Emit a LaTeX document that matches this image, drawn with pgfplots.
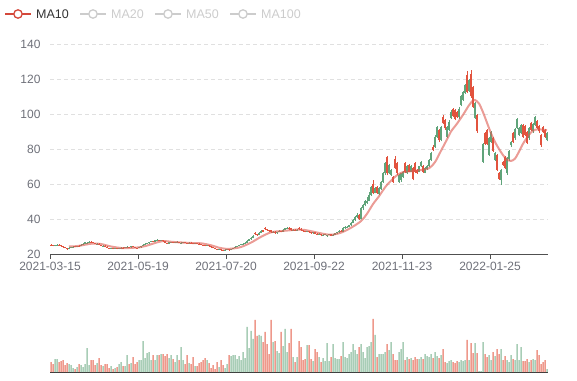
\documentclass[border=0pt]{standalone}
\usepackage{fontspec}
\setmainfont{Liberation Sans}
\usepackage{pgfplots}
\usepackage{pgfplotstable}
\pgfplotsset{compat=1.18}
\definecolor{cred}{RGB}{226,83,62}
\definecolor{cgreen}{RGB}{96,164,122}
\definecolor{mared}{RGB}{221,90,80}
\definecolor{lblgray}{RGB}{110,112,121}
\definecolor{gridgray}{RGB}{224,224,224}
\definecolor{axisgray}{RGB}{80,80,80}
\definecolor{leggray}{RGB}{204,204,204}
\definecolor{legred}{RGB}{212,72,58}
\definecolor{legtext}{RGB}{51,51,51}

\pgfplotstableread{
i o c l h v
0 25.3 25.0 24.8 25.5 10
1 25.0 24.6 24.4 25.2 8
2 24.5 24.9 24.3 25.1 13
3 24.9 25.3 24.8 25.5 13
4 25.4 25.0 24.8 25.6 10
5 25.0 24.4 24.2 25.1 11
6 24.4 23.8 23.6 24.5 12
7 23.9 23.4 23.2 24.0 7
8 23.5 22.8 22.4 23.6 9
9 22.9 23.6 22.7 23.8 8
10 23.6 23.9 23.4 24.1 7
11 23.9 24.2 23.7 24.4 4
12 24.3 24.0 23.8 24.5 3
13 24.0 24.6 23.9 24.8 5
14 24.7 24.4 24.2 24.9 8
15 24.4 25.4 24.3 25.6 7
16 25.4 25.9 25.2 26.1 5
17 25.9 26.6 25.8 26.9 8
18 26.0 26.5 25.8 27.0 24
19 26.5 27.0 26.3 27.3 7
20 27.1 26.8 26.5 27.3 12
21 26.8 26.3 26.1 27.0 12
22 26.3 25.8 25.6 26.4 7
23 25.7 25.9 25.5 26.1 9
24 25.9 25.2 25.0 26.1 14
25 25.2 24.7 24.5 25.3 7
26 24.6 24.8 24.4 25.0 6
27 24.8 24.2 24.0 24.9 8
28 24.2 23.6 23.4 24.3 8
29 23.6 23.2 23.0 23.7 4
30 23.2 23.5 23.0 23.7 6
31 23.5 23.0 22.8 23.6 3
32 23.0 23.3 22.9 23.5 4
33 23.3 22.9 22.7 23.4 5
34 22.9 23.2 22.7 23.4 8
35 23.2 23.6 23.1 23.8 10
36 23.6 23.4 23.2 23.8 6
37 23.4 23.9 23.3 24.1 6
38 23.8 24.1 23.6 24.4 17
39 24.1 23.8 23.6 24.2 8
40 23.8 24.3 23.7 24.5 9
41 24.3 24.0 23.8 24.5 15
42 24.0 23.6 23.4 24.1 8
43 23.6 23.3 23.1 23.7 10
44 23.3 23.8 23.2 24.0 12
45 23.8 24.5 23.7 24.7 12
46 24.5 25.3 24.4 25.5 31
47 25.3 25.9 25.1 26.1 14
48 25.9 26.1 25.7 26.4 19
49 26.1 26.8 26.0 27.0 20
50 26.8 27.3 26.6 27.6 12
51 27.4 27.0 26.8 27.6 17
52 27.0 27.8 26.9 28.0 12
53 27.8 28.1 27.6 28.4 17
54 28.1 27.4 27.2 28.2 17
55 27.4 27.9 27.3 28.1 18
56 27.9 27.2 27.0 28.0 18
57 27.2 26.4 26.2 27.3 16
58 26.4 26.0 25.8 26.5 18
59 26.0 26.6 25.9 26.8 14
60 26.6 26.9 26.4 27.1 17
61 26.9 26.3 26.1 27.0 13
62 26.3 26.7 26.2 26.9 10
63 26.7 27.0 26.6 27.2 17
64 27.0 26.5 26.3 27.1 12
65 25.9 26.2 25.7 26.6 25
66 26.2 26.6 26.1 26.8 12
67 26.6 26.4 26.2 26.7 8
68 26.4 26.0 25.8 26.5 17
69 26.0 26.5 25.9 26.7 9
70 26.5 26.2 26.0 26.6 8
71 26.2 25.9 25.7 26.3 15
72 25.9 26.3 25.8 26.5 6
73 26.3 26.0 25.8 26.4 6
74 26.0 25.6 25.4 26.1 9
75 25.6 25.3 25.1 25.8 10
76 25.3 25.0 24.8 25.4 12
77 25.0 24.6 24.4 25.1 14
78 24.6 24.9 24.5 25.1 12
79 24.9 24.3 24.1 25.0 9
80 24.3 23.8 23.6 24.4 4
81 23.8 23.4 23.2 23.9 7
82 23.4 22.8 22.6 23.5 3
83 22.8 22.5 22.2 22.9 10
84 22.5 22.9 22.4 23.1 5
85 22.9 22.3 22.0 23.0 12
86 22.3 22.0 21.7 22.4 7
87 22.0 22.4 21.9 22.6 4
88 22.4 22.7 22.2 22.9 8
89 22.7 22.2 22.0 22.8 17
90 22.2 22.9 22.1 23.1 16
91 22.9 23.5 22.8 23.7 17
92 23.5 24.1 23.4 24.3 17
93 24.1 24.6 24.0 24.8 13
94 24.6 25.0 24.4 25.3 16
95 25.0 25.6 24.9 25.8 12
96 25.6 26.0 25.4 26.3 20
97 26.0 26.5 25.9 26.8 14
98 26.5 27.6 26.4 27.9 45
99 27.6 28.4 27.4 28.7 24
100 28.4 29.2 28.2 29.5 41
101 29.2 30.5 29.0 30.8 33
102 31.8 31.3 30.8 32.4 52
103 31.3 30.8 30.4 31.6 36
104 30.8 32.2 30.6 32.5 37
105 32.2 33.4 32.0 33.7 36
106 33.6 32.6 32.3 34.0 30
107 34.9 34.1 33.8 35.4 40
108 34.1 33.5 33.2 34.4 28
109 33.5 33.0 32.7 33.8 18
110 33.8 32.4 32.0 34.0 52
111 32.4 32.8 32.1 33.1 30
112 32.8 31.9 31.6 33.0 31
113 31.9 32.5 31.7 32.8 21
114 32.5 33.2 32.3 33.5 19
115 33.2 32.7 32.4 33.4 40
116 32.7 33.8 32.6 34.1 26
117 33.8 34.6 33.6 35.0 43
118 34.6 35.1 34.3 35.6 20
119 35.1 34.2 33.9 35.3 29
120 34.6 33.6 33.3 34.8 43
121 33.6 34.0 33.4 34.3 15
122 34.0 33.4 33.1 34.2 10
123 33.4 33.9 33.2 34.2 15
124 34.9 34.4 34.0 35.2 31
125 34.4 33.7 33.4 34.6 25
126 33.7 33.0 32.8 33.9 12
127 33.0 32.6 32.3 33.2 13
128 32.6 33.1 32.4 33.4 27
129 33.1 32.4 32.1 33.3 27
130 32.4 31.8 31.5 32.6 13
131 31.8 32.3 31.6 32.6 11
132 32.3 31.6 31.3 32.5 23
133 31.6 31.1 30.8 31.8 20
134 31.1 31.5 30.9 31.8 15
135 31.5 30.6 30.1 31.7 10
136 30.6 30.9 30.3 31.2 14
137 30.9 31.4 30.7 31.6 11
138 30.5 30.8 30.0 31.1 29
139 30.8 31.2 30.6 31.5 11
140 31.2 30.5 30.2 31.4 15
141 30.5 31.0 30.3 31.3 28
142 31.0 31.8 30.8 32.1 14
143 31.8 32.5 31.6 32.8 13
144 32.5 33.2 32.2 33.6 13
145 33.2 32.8 32.4 33.5 16
146 32.8 34.8 32.6 35.2 30
147 34.8 35.2 34.4 35.8 15
148 35.2 35.6 34.8 36.2 14
149 35.6 36.3 35.2 36.8 18
150 36.3 38.0 36.0 38.5 20
151 38.0 39.5 37.6 40.0 28
152 39.5 41.0 39.0 41.6 22
153 41.0 42.5 40.4 43.2 18
154 42.5 40.0 39.2 43.0 25
155 40.0 46.0 39.8 46.6 28
156 46.0 48.0 45.4 48.8 20
157 48.0 50.0 47.2 50.8 14
158 49.2 50.5 48.8 52.6 25
159 50.5 53.5 50.0 55.6 26
160 53.5 58.0 53.0 58.6 30
161 60.0 55.0 54.0 62.0 53
162 55.0 57.5 54.6 58.0 37
163 58.5 55.0 54.4 59.0 15
164 54.0 57.5 53.6 58.0 18
165 57.0 61.0 56.6 61.6 18
166 61.0 66.0 60.6 66.8 18
167 66.0 72.0 65.4 72.6 20
168 75.4 66.0 65.0 75.8 28
169 66.0 71.0 65.6 71.6 22
170 65.0 68.0 64.6 68.6 30
171 64.0 61.0 60.6 64.6 18
172 74.0 69.0 68.4 76.0 12
173 72.0 66.0 65.4 72.6 12
174 61.0 65.0 60.6 65.6 20
175 62.0 66.0 61.4 66.4 23
176 64.0 67.0 63.6 67.6 30
177 72.0 67.0 66.4 72.4 12
178 66.0 70.0 65.6 70.6 15
179 71.0 67.0 66.6 71.4 13
180 67.0 70.0 66.6 70.6 14
181 69.0 63.0 62.0 69.6 12
182 72.0 67.0 66.4 72.4 15
183 68.0 66.0 65.6 68.6 13
184 67.0 70.0 66.6 70.4 13
185 70.0 72.7 69.6 73.2 15
186 70.0 67.0 66.4 70.6 13
187 66.5 69.0 66.0 69.6 18
188 68.5 70.5 68.0 71.0 16
189 70.0 73.7 69.6 74.2 15
190 73.7 77.5 73.2 78.0 18
191 81.3 79.4 78.8 82.0 14
192 81.3 87.0 80.6 87.8 20
193 87.0 92.6 86.4 93.4 16
194 90.9 85.0 84.2 91.6 14
195 85.0 92.7 84.4 93.4 17
196 98.5 94.7 94.0 99.2 23
197 96.6 91.8 91.0 97.2 10
198 87.0 92.7 86.4 93.4 9
199 91.0 95.6 90.4 96.4 11
200 97.5 101.3 97.0 102.0 12
201 103.0 99.0 98.4 103.6 10
202 102.0 97.0 96.4 102.6 9
203 101.0 98.3 97.6 101.8 11
204 98.0 103.0 97.4 103.8 10
205 105.0 110.0 104.4 110.8 12
206 108.0 112.7 107.4 113.4 11
207 112.0 116.6 111.4 117.4 12
208 122.0 112.7 112.0 124.7 32
209 113.0 119.4 112.4 120.0 12
210 123.0 110.0 109.4 125.0 29
211 115.6 104.0 103.4 116.0 19
212 97.7 106.0 97.0 106.8 29
213 99.4 90.0 89.4 100.0 19
214 81.0 81.0 81.0 81.0 1
215 73.0 73.0 73.0 73.0 1
216 72.6 83.0 72.0 83.6 30
217 89.0 83.0 82.4 89.6 18
218 91.0 83.0 82.4 91.6 15
219 76.6 86.0 76.0 86.6 17
220 84.0 89.7 83.4 90.4 12
221 86.0 79.0 78.4 86.6 20
222 73.7 77.7 73.2 78.2 16
223 76.6 68.0 67.4 77.2 23
224 66.0 63.0 62.4 66.6 18
225 62.0 68.0 59.4 68.6 23
226 72.6 71.0 70.4 73.2 12
227 75.4 69.0 68.4 76.0 16
228 66.0 75.0 65.4 75.6 12
229 74.0 79.0 73.4 79.6 10
230 82.0 84.0 81.4 84.6 17
231 89.0 84.0 83.4 89.6 13
232 86.0 91.4 85.4 92.0 12
233 92.0 97.0 91.4 97.6 28
234 88.0 92.0 87.4 92.6 12
235 89.0 93.7 88.4 94.2 25
236 93.7 87.0 86.4 94.4 11
237 93.0 88.0 87.4 93.6 11
238 89.7 83.4 82.8 90.2 13
239 86.0 92.0 85.4 92.6 10
240 95.0 91.0 90.4 95.6 12
241 90.0 94.0 89.4 94.6 13
242 93.7 98.0 93.2 98.6 12
243 96.0 92.0 91.4 96.6 22
244 93.0 90.0 89.4 93.6 17
245 88.0 82.0 81.4 88.6 8
246 92.6 89.7 89.2 93.2 10
247 91.0 87.0 86.4 91.6 12
248 85.0 89.0 84.4 89.6 3
}\data

\begin{document}
\begin{tikzpicture}[x=1pt,y=1pt]
\useasboundingbox (0,0) rectangle (577,380);
\begin{axis}[
  at={(50pt,126pt)}, anchor=south west, scale only axis,
  width=498pt, height=210pt,
  xmin=-0.5, xmax=248.5, ymin=20, ymax=140,
  ytick={20,40,...,140},
  xtick={-0.5,43.5,87.5,131.5,175.5,219.5},
  xticklabels={2021-03-15,2021-05-19,2021-07-20,2021-09-22,2021-11-23,2022-01-25},
  axis x line*=bottom, axis y line*=left,
  y axis line style={draw=none},
  x axis line style={axisgray, line width=0.8pt},
  tick align=outside, major tick length=5pt,
  xtick style={axisgray, line width=0.8pt},
  ytick style={draw=none},
  ymajorgrids,
  grid style={gridgray, dash pattern=on 4pt off 3pt, line width=0.8pt},
  tick label style={font=\fontsize{12}{14}\selectfont, text=lblgray},
  /pgf/number format/assume math mode=true,
  xticklabel style={inner sep=1pt, yshift=-1.5pt},
  yticklabel style={xshift=-1pt},
]
% wicks
\addplot[cgreen, line width=0.55pt, mark=none, restrict y to domain=-10:900,
  quiver={u=0, v=\thisrow{h}-\thisrow{l}}]
  table[x=i, y expr={\thisrow{l}+1000*(\thisrow{c}<\thisrow{o})}] {\data};
\addplot[cred, line width=0.55pt, mark=none, restrict y to domain=-10:900,
  quiver={u=0, v=\thisrow{h}-\thisrow{l}}]
  table[x=i, y expr={\thisrow{l}+1000*(\thisrow{c}>=\thisrow{o})}] {\data};
% bodies
\addplot[cgreen, line width=1.25pt, mark=none, restrict y to domain=-10:900,
  quiver={u=0, v=\thisrow{c}-\thisrow{o}}]
  table[x=i, y expr={\thisrow{o}+1000*(\thisrow{c}<\thisrow{o})}] {\data};
\addplot[cred, line width=1.25pt, mark=none, restrict y to domain=-10:900,
  quiver={u=0, v=\thisrow{o}-\thisrow{c}}]
  table[x=i, y expr={\thisrow{c}+1000*(\thisrow{c}>=\thisrow{o})}] {\data};
% MA10
\addplot[mared, opacity=0.6, line width=2pt, smooth, mark=none] coordinates {
(9,24.3) (13,24.5) (17,25.3) (21,26.0) (25,25.7) (30,24.3) (36,23.3) (40,23.5)
(44,23.8) (48,24.8) (52,26.3) (56,27.4) (60,27.0) (65,26.6) (70,26.3) (75,26.1)
(80,25.0) (84,23.6) (88,22.9) (92,23.3) (95,24.0) (100,26.5) (105,29.8) (110,32.4)
(115,33.1) (120,33.6) (123,34.0) (127,33.7) (131,32.8) (135,31.8) (140,31.0)
(145,32.2) (150,35.0) (155,38.8) (158,43.0) (161,48.5) (164,53.0) (166,56.4)
(168,59.5) (171,63.0) (173,65.0) (176,66.8) (180,67.3) (185,68.0) (189,69.0)
(192,72.5) (195,79.0) (198,85.5) (200,90.0) (203,94.5) (206,99.5) (209,105.0)
(211,107.8) (212,108.0) (214,106.0) (216,101.0) (218,95.0) (220,89.0) (222,84.0)
(224,80.0) (226,76.5) (228,74.0) (230,73.2) (232,74.5) (234,78.5) (236,83.0)
(238,86.5) (240,89.5) (242,91.0) (244,91.3) (246,91.0) (248,90.8)
};
\end{axis}

\begin{axis}[
  at={(50pt,8pt)}, anchor=south west, scale only axis,
  width=498pt, height=60pt,
  xmin=-0.5, xmax=248.5, ymin=0, ymax=60,
  axis x line*=bottom, axis y line=none,
  xtick=\empty, ytick=\empty,
  x axis line style={black!80, line width=1pt},
]
\addplot[ybar, bar width=0.75, bar shift=0pt, fill=cgreen!55!white, draw=none,
  restrict y to domain=-1:500]
  table[x=i, y expr={\thisrow{v}+1000*(\thisrow{c}<\thisrow{o})}] {\data};
\addplot[ybar, bar width=0.75, bar shift=0pt, fill=cred!60!white, draw=none,
  restrict y to domain=-1:500]
  table[x=i, y expr={\thisrow{v}+1000*(\thisrow{c}>=\thisrow{o})}] {\data};
\end{axis}

% legend
\begin{scope}[font=\fontsize{12.5}{14}\selectfont]
\draw[legred, line width=1.3pt] (5,366) -- (31,366);
\draw[legred, line width=1.3pt, fill=white] (18,366) circle (4.2);
\node[anchor=west, inner sep=0pt, text=legtext] at (36,366) {MA10};
\draw[leggray, line width=1.3pt] (80,366) -- (106,366);
\draw[leggray, line width=1.3pt, fill=white] (93,366) circle (4.2);
\node[anchor=west, inner sep=0pt, text=leggray] at (111,366) {MA20};
\draw[leggray, line width=1.3pt] (155,366) -- (181,366);
\draw[leggray, line width=1.3pt, fill=white] (168,366) circle (4.2);
\node[anchor=west, inner sep=0pt, text=leggray] at (186,366) {MA50};
\draw[leggray, line width=1.3pt] (230,366) -- (256,366);
\draw[leggray, line width=1.3pt, fill=white] (243,366) circle (4.2);
\node[anchor=west, inner sep=0pt, text=leggray] at (261,366) {MA100};
\end{scope}
\end{tikzpicture}
\end{document}
